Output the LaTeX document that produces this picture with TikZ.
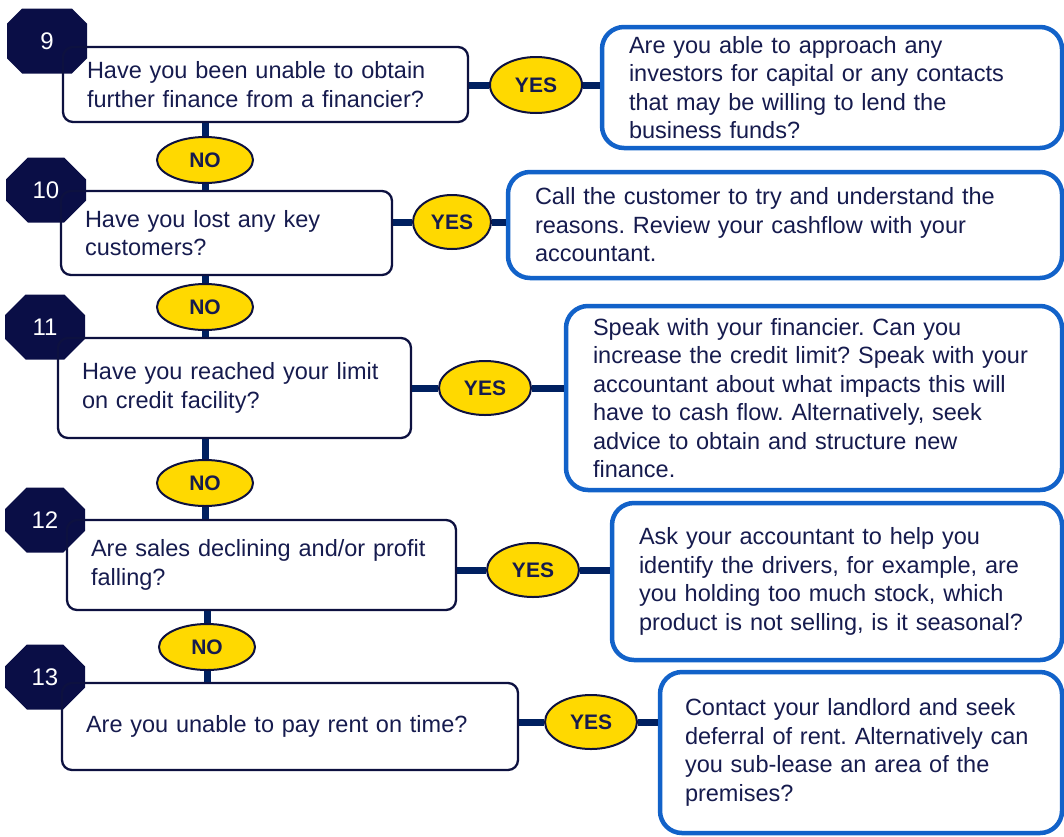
\documentclass[tikz,border=0pt]{standalone}
\usepackage{fontspec}
\setmainfont{Liberation Sans}
\usetikzlibrary{shapes.geometric,shapes.misc}
\definecolor{navy}{HTML}{0A0E46}
\definecolor{qline}{HTML}{0D1140}
\definecolor{ink}{HTML}{161B4E}
\definecolor{lineblue}{HTML}{002060}
\definecolor{ablue}{HTML}{1262C9}
\definecolor{gold}{HTML}{FFD900}

\begin{document}
\begin{tikzpicture}[x=1pt,y=-1pt,
   qbox/.style={draw=qline,line width=2.3pt,rounded corners=10pt,text=ink,align=left,inner xsep=24pt,inner ysep=0pt,font=\fontsize{23.5}{28.5}\selectfont\frenchspacing},
   abox/.style={draw=ablue,line width=4.5pt,rounded corners=22pt,fill=white,text=ink,align=left,inner xsep=27pt,inner ysep=0pt,font=\fontsize{23.5}{28.5}\selectfont\frenchspacing},
   yesno/.style={ellipse,draw=qline,line width=2pt,fill=gold,text=ink,inner sep=0pt,font=\bfseries\fontsize{21}{24}\selectfont},
   badge/.style={chamfered rectangle,chamfered rectangle xsep=22pt,chamfered rectangle ysep=19pt,fill=navy,text=white,minimum width=80pt,minimum height=65pt,inner sep=0pt,font=\fontsize{24}{28}\selectfont},
   link/.style={draw=lineblue,line width=7pt}]
   \useasboundingbox (0,0) rectangle (1064,836);
   % question 9
   \node[badge] (n9) at (47,41) {9};
   \node[qbox,text width=357pt,minimum height=75pt] (q9) at (265.5,84.5) {Have you been unable to obtain\\further finance from a financier?};
   \node[yesno,minimum width=92pt,minimum height=56pt] (y9) at (536,85) {YES};
   \node[abox,text width=406pt,minimum height=121pt] (a9) at (832,87.5) {Are you able to approach any\\investors for capital or any contacts\\that may be willing to lend the\\business funds?};
   \node[yesno,minimum width=96pt,minimum height=46pt] (no9) at (205,160) {NO};
   % question 10
   \node[badge] (n10) at (46,190) {10};
   \node[qbox,text width=283pt,minimum height=84pt] (q10) at (226.5,233) {Have you lost any key\\customers?};
   \node[yesno,minimum width=78pt,minimum height=54pt] (y10) at (452,222) {YES};
   \node[abox,text width=500pt,minimum height=106pt] (a10) at (785,225) {Call the customer to try and understand the\\reasons. Review your cashflow with your\\accountant.};
   \node[yesno,minimum width=96pt,minimum height=46pt] (no10) at (205,307) {NO};
   % question 11
   \node[badge] (n11) at (45,327) {11};
   \node[qbox,text width=305pt,minimum height=100pt] (q11) at (234.5,388) {Have you reached your limit\\on credit facility?};
   \node[yesno,minimum width=92pt,minimum height=54pt] (y11) at (485,388) {YES};
   \node[abox,text width=442pt,minimum height=184pt] (a11) at (814,398) {Speak with your financier. Can you\\increase the credit limit? Speak with your\\accountant about what impacts this will\\have to cash flow. Alternatively, seek\\advice to obtain and structure new\\finance.};
   \node[yesno,minimum width=96pt,minimum height=46pt] (no11) at (205,483) {NO};
   % question 12
   \node[badge] (n12) at (45,520) {12};
   \node[qbox,text width=341pt,minimum height=90pt] (q12) at (261.5,565) {Are sales declining and/or profit\\falling?};
   \node[yesno,minimum width=92pt,minimum height=54pt] (y12) at (533,570) {YES};
   \node[abox,text width=396pt,minimum height=157pt] (a12) at (837,581.5) {Ask your accountant to help you\\identify the drivers, for example, are\\you holding too much stock, which\\product is not selling, is it seasonal?};
   \node[yesno,minimum width=96pt,minimum height=46pt] (no12) at (207,647) {NO};
   % question 13
   \node[badge] (n13) at (45,677) {13};
   \node[qbox,text width=408pt,minimum height=87pt] (q13) at (290,726.5) {Are you unable to pay rent on time?};
   \node[yesno,minimum width=92pt,minimum height=54pt] (y13) at (591,722) {YES};
   \node[abox,inner xsep=25pt,text width=352pt,minimum height=161pt] (a13) at (861,752.5) {Contact your landlord and seek\\deferral of rent. Alternatively can\\you sub-lease an area of the\\premises?};
   % connectors
   \draw[link] (no9.north) -- (no9.north |- q9.south) (no9.south) -- (no9.south |- q10.north);
   \draw[link] (no10.north) -- (no10.north |- q10.south) (no10.south) -- (no10.south |- q11.north);
   \draw[link] (no11.north) -- (no11.north |- q11.south) (no11.south) -- (no11.south |- q12.north);
   \draw[link] (no12.north) -- (no12.north |- q12.south) (no12.south) -- (no12.south |- q13.north);
   \draw[link] (y9.west) -- (y9.west -| q9.east) (y9.east) -- (y9.east -| a9.west);
   \draw[link] (y10.west) -- (y10.west -| q10.east) (y10.east) -- (y10.east -| a10.west);
   \draw[link] (y11.west) -- (y11.west -| q11.east) (y11.east) -- (y11.east -| a11.west);
   \draw[link] (y12.west) -- (y12.west -| q12.east) (y12.east) -- (y12.east -| a12.west);
   \draw[link] (y13.west) -- (y13.west -| q13.east) (y13.east) -- (y13.east -| a13.west);
\end{tikzpicture}
\end{document}
